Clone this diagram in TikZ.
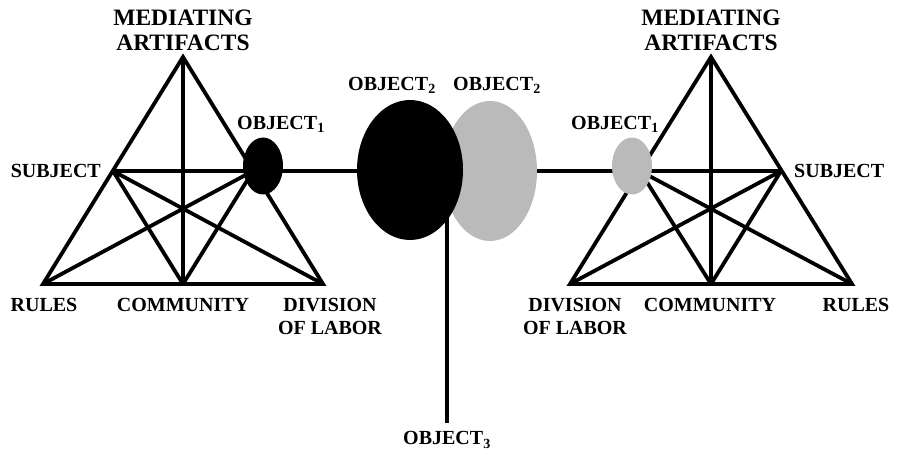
\documentclass[tikz,border=0pt]{standalone}
\usepackage{fontspec}
\setmainfont{Liberation Serif}
\usetikzlibrary{positioning,shapes.geometric,backgrounds}

\begin{document}
\begin{tikzpicture}[
    x=1pt, y=-1pt,
    link/.style={line width=3.8pt},
    term/.style={font=\bfseries\fontsize{20}{23}\selectfont, inner sep=0pt, align=center},
    topterm/.style={font=\bfseries\fontsize{23.5}{25}\selectfont, inner sep=0pt, align=center},
    blob/.style={ellipse, inner sep=0pt, draw=none},
    smallblob/.style={blob, minimum width=40pt, minimum height=57pt},
    bigblob/.style={blob, minimum height=140pt}
]
\useasboundingbox (0,0) rectangle (897,454);

% corner points of the left system
\coordinate (lma) at (183,57);
\coordinate (lru) at (43,284);
\coordinate (lco) at (183,284);
\coordinate (ldl) at (323,284);
\coordinate (lsu) at (113,171);
\coordinate (lob) at (253,171);

% corner points of the right system
\coordinate (rma) at (711,57);
\coordinate (rdl) at (570,284);
\coordinate (rco) at (711,284);
\coordinate (rru) at (852,284);
\coordinate (rsu) at (781,171);
\coordinate (rob) at (640,171);

% objects
\node[smallblob, fill=black] (lo1) at (263,166) {};
\node[bigblob, fill=black!27, minimum width=94pt] (ro2) at (490,171) {};
\node[bigblob, fill=black, minimum width=106pt] (lo2) at (410,170) {};
\node[smallblob, fill=black!27] (ro1) at (632,166) {};

% labels
\node[topterm] (lmed) at (183,30) {MEDIATING\\ARTIFACTS};
\node[term, anchor=east] (lsub) at (101,171) {SUBJECT};
\node[term] (lo1t) at (281,124) {OBJECT\textsubscript{1}};
\node[term] (lrul) at (44,305) {RULES};
\node[term] (lcom) at (183,305) {COMMUNITY};
\node[term] (ldiv) at (330,316) {DIVISION\\OF LABOR};
\node[term] (lo2t) at (392,85) {OBJECT\textsubscript{2}};

\node[topterm] (rmed) at (711,30) {MEDIATING\\ARTIFACTS};
\node[term, anchor=west] (rsub) at (794,171) {SUBJECT};
\node[term] (ro1t) at (615,124) {OBJECT\textsubscript{1}};
\node[term] (rrul) at (856,305) {RULES};
\node[term] (rcom) at (710,305) {COMMUNITY};
\node[term] (rdiv) at (575,316) {DIVISION\\OF LABOR};
\node[term] (ro2t) at (497,85) {OBJECT\textsubscript{2}};

\node[term] (o3t) at (447,440) {OBJECT\textsubscript{3}};

\begin{scope}[on background layer, every path/.style=link]
% left system
\draw (lma) -- (lru) -- (ldl) -- cycle;
\draw (lma) -- (lco);
\draw (lsu) -- (lob);
\draw (lsu) -- (lco) (lsu) -- (ldl);
\draw (lob) -- (lru) (lob) -- (lco);
% right system
\draw (rma) -- (rdl) -- (rru) -- cycle;
\draw (rma) -- (rco);
\draw (rob) -- (rsu);
\draw (rsu) -- (rco) (rsu) -- (rdl);
\draw (rob) -- (rru) (rob) -- (rco);
% links between the objects
\draw (lob) -- (lob -| lo2.center);
\draw (rob -| ro2.center) -- (rob);
\draw ([yshift=9pt]o3t.north) -- (o3t.north |- lo2.center);
\end{scope}

\end{tikzpicture}
\end{document}
